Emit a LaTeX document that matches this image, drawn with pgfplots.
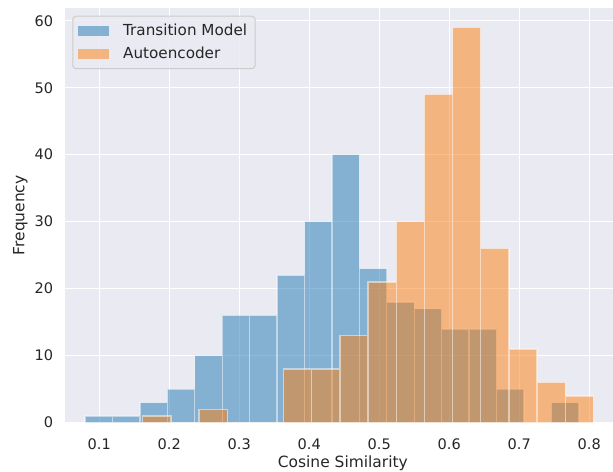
\documentclass[border=0pt]{standalone}
\usepackage{pgfplots}
\pgfplotsset{compat=1.18}
\usepackage{fontspec}
\setmainfont{DejaVu Sans}
\definecolor{bgc}{HTML}{EAEAF2}
\definecolor{txt}{HTML}{262626}
\definecolor{tabblue}{HTML}{1F77B4}
\definecolor{taborange}{HTML}{FF7F0E}
\definecolor{legedge}{HTML}{CCCCCC}
\begin{document}
\begin{tikzpicture}
\begin{axis}[
  at={(0,0)}, anchor=south west,
  scale only axis,
  width=411pt, height=311pt,
  xmin=0.051, xmax=0.834,
  ymin=0, ymax=61.9,
  xtick={0.1,0.2,0.3,0.4,0.5,0.6,0.7,0.8},
  xticklabels={0.1,0.2,0.3,0.4,0.5,0.6,0.7,0.8},
  ytick={0,10,20,30,40,50,60},
  x tick label as interval=false,
  major tick length=0pt,
  axis background/.style={fill=bgc},
  axis line style={draw=none},
  grid=major,
  major grid style={white, line width=0.9pt},
  /pgf/number format/assume math mode=true,
  tick label style={font=\fontsize{10.9}{13}\selectfont, text=txt},
  xticklabel style={yshift=-8.5pt},
  yticklabel style={xshift=-5.4pt},
  xlabel={Cosine Similarity},
  ylabel={Frequency},
  xlabel style={at={(axis description cs:0.507,-0.1093)}, anchor=base, font=\fontsize{11.6}{14}\selectfont, text=txt},
  ylabel style={at={(axis description cs:-0.074,0.5)}, anchor=base, rotate=0, font=\fontsize{11.6}{14}\selectfont, text=txt},
  legend cell align=left,
  legend style={at={(0.0133,0.9814)}, anchor=north west,
    draw=legedge, fill=bgc, fill opacity=0.8, text opacity=1,
    rounded corners=2.5pt, line width=0.75pt,
    font=\fontsize{11.4}{14}\selectfont, text=txt,
    inner xsep=4pt, inner ysep=4pt, row sep=3pt,
    /tikz/every odd column/.append style={column sep=8.5pt},
    /tikz/every even column/.append style={column sep=3pt}},
  legend image code/.code={\fill[#1, draw=none, sharp corners] (0pt,-3.75pt) rectangle (23.25pt,3.75pt);},
]
\addplot[ybar interval, fill=tabblue, fill opacity=0.5, draw=white, draw opacity=0.5, line width=1pt]
coordinates {
(0.0796,1) (0.1188,1) (0.1580,3) (0.1972,5) (0.2364,10) (0.2756,16)
(0.3148,16) (0.3540,22) (0.3932,30) (0.4324,40) (0.4716,23) (0.5108,18)
(0.5500,17) (0.5892,14) (0.6284,14) (0.6676,5) (0.7068,0) (0.7460,3) (0.7852,3)
};
\addlegendentry{Transition Model}
\addplot[ybar interval, fill=taborange, fill opacity=0.5, draw=white, draw opacity=0.5, line width=1pt]
coordinates {
(0.1620,1) (0.2023,0) (0.2425,2) (0.2828,0) (0.3230,0) (0.3633,8)
(0.4035,8) (0.4438,13) (0.4840,21) (0.5243,30) (0.5645,49) (0.6048,59)
(0.6450,26) (0.6853,11) (0.7255,6) (0.7658,4) (0.8060,4)
};
\addlegendentry{Autoencoder}
\end{axis}
\pgfresetboundingbox
\path[use as bounding box] (-48.75pt,-36.98pt) rectangle (411pt,317pt);
\end{tikzpicture}
\end{document}
